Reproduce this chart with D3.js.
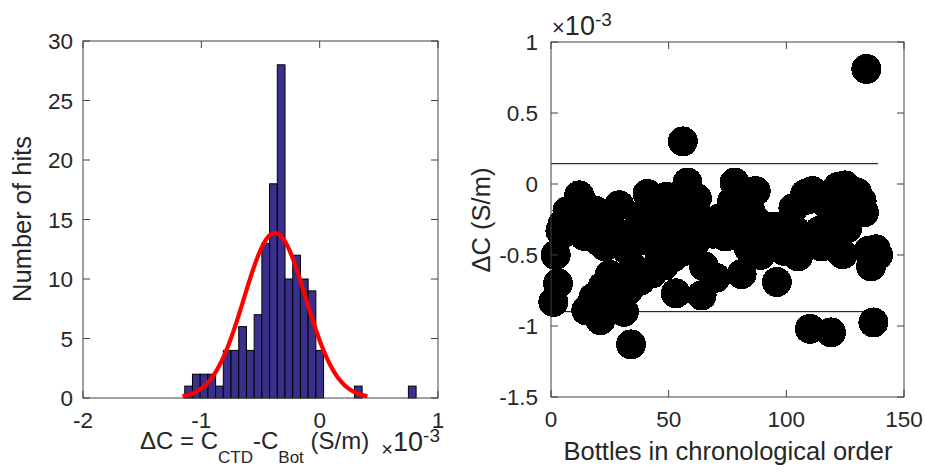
<!DOCTYPE html>
<html><head><meta charset="utf-8">
<script src="https://cdn.jsdelivr.net/npm/d3@7"></script>
<style>
html,body{margin:0;padding:0;background:#fff;}
text{font-family:"Liberation Sans",Arial,Helvetica,sans-serif;fill:#262626;}
</style></head>
<body>
<script>
// ---- data (conductivity differences in units of 1e-3 S/m) ----
const histCounts = [1,2,2,2,1,4,4,6,4,7,13,18,28,10,12,10,9,4,0,0,0,0,1,0,0,0,0,0,0,1];
const histRange = [-1.14, 0.815];           // extent covered by the 30 bins
const fitMu = -0.378, fitSigma = 0.2605;    // normal fit (histfit)
const nBottles = 139;

const deltaC = [
-0.83,-0.50,-0.70,-0.33,-0.28,-0.34,-0.19,-0.24,-0.31,-0.21,
-0.33,-0.08,-0.12,-0.365,-0.89,-0.30,-0.23,-0.80,-0.19,-0.40,
-0.96,-0.72,-0.44,-0.27,-0.64,-0.81,-0.33,-0.66,-0.15,-0.37,
-0.90,-0.46,-0.745,-1.13,-0.59,-0.32,-0.40,-0.68,-0.28,-0.20,
-0.07,-0.35,-0.63,-0.42,-0.31,-0.54,-0.23,-0.575,-0.09,-0.44,
-0.34,-0.515,-0.77,-0.18,-0.38,0.30,-0.47,0.01,-0.20,-0.33,
-0.42,-0.10,-0.29,-0.785,-0.58,-0.26,-0.33,-0.30,-0.35,-0.66,
-0.31,-0.24,-0.34,-0.37,-0.365,-0.31,-0.12,0.01,-0.21,-0.34,
-0.635,-0.37,-0.30,-0.45,-0.20,-0.38,-0.05,-0.27,-0.50,-0.45,
-0.33,-0.40,-0.32,-0.42,-0.30,-0.69,-0.36,-0.31,-0.47,-0.34,
-0.30,-0.40,-0.17,-0.33,-0.51,-0.36,-0.44,-0.07,-0.11,-1.02,
-0.05,-0.40,-0.10,-0.33,-0.44,-0.43,-0.14,-0.38,-1.045,-0.19,
-0.45,-0.02,-0.13,-0.495,-0.01,-0.31,-0.04,-0.21,-0.08,-0.06,
-0.15,-0.12,-0.20,0.81,-0.47,-0.58,-0.975,-0.46,-0.50];

const xTicksL = [-2,-1,0,1], xTickLabelsL = ["-2","-1","0","1"];
const yTicksL = [0,5,10,15,20,25,30], yTickLabelsL = ["0","5","10","15","20","25","30"];
const xTicksR = [0,50,100,150], xTickLabelsR = ["0","50","100","150"];
const yTicksR = [-1.5,-1,-0.5,0,0.5,1], yTickLabelsR = ["-1.5","-1","-0.5","0","0.5","1"];

// ---- drawing ----
const W = 925, H = 472;
const svg = d3.select("body").append("svg").attr("width", W).attr("height", H);
const axisCol = "#404040", tickFont = 22.5, labelFont = 25.5, tickLen = 7;

function box(g, x, y, xt, xl, yt, yl, yLabRight) {
  const [x0, x1] = x.range(), [y0, y1] = y.range();
  g.append("rect").attr("x", x0).attr("y", y1).attr("width", x1 - x0).attr("height", y0 - y1)
    .attr("fill", "none").attr("stroke", axisCol).attr("stroke-width", 1);
  xt.forEach((t, i) => {
    const px = x(t);
    g.append("line").attr("x1", px).attr("x2", px).attr("y1", y0).attr("y2", y0 - tickLen).attr("stroke", axisCol);
    g.append("line").attr("x1", px).attr("x2", px).attr("y1", y1).attr("y2", y1 + tickLen).attr("stroke", axisCol);
    g.append("text").attr("x", px).attr("y", y0 + 30).attr("text-anchor", "middle")
      .attr("font-size", tickFont).text(xl[i]);
  });
  yt.forEach((t, i) => {
    const py = y(t);
    g.append("line").attr("x1", x0).attr("x2", x0 + tickLen).attr("y1", py).attr("y2", py).attr("stroke", axisCol);
    g.append("line").attr("x1", x1).attr("x2", x1 - tickLen).attr("y1", py).attr("y2", py).attr("stroke", axisCol);
    g.append("text").attr("x", yLabRight).attr("y", py + 8).attr("text-anchor", "end")
      .attr("font-size", tickFont).text(yl[i]);
  });
}

// Left: histogram
const xL = d3.scaleLinear().domain([-2, 1]).range([83, 438]);
const yL = d3.scaleLinear().domain([0, 30]).range([398, 41]);
const gL = svg.append("g");
const binW = (histRange[1] - histRange[0]) / histCounts.length;
const bins = histCounts.map((c, i) => ({x0: histRange[0] + i * binW, x1: histRange[0] + (i + 1) * binW, c}));
gL.selectAll("rect.bar").data(bins.filter(b => b.c > 0)).join("rect").attr("class", "bar")
  .attr("x", d => xL(d.x0)).attr("width", d => xL(d.x1) - xL(d.x0))
  .attr("y", d => yL(d.c)).attr("height", d => yL(0) - yL(d.c))
  .attr("fill", "#38308a").attr("stroke", "#000").attr("stroke-width", 1);

const nTot = d3.sum(histCounts);
const curveX = d3.range(0, 201).map(k => fitMu - 3 * fitSigma + k * (6 * fitSigma / 200));
const pdf = v => nTot * binW * Math.exp(-0.5 * ((v - fitMu) / fitSigma) ** 2) / (fitSigma * Math.sqrt(2 * Math.PI));
gL.append("path").datum(curveX)
  .attr("d", d3.line().x(v => xL(v)).y(v => yL(pdf(v))))
  .attr("fill", "none").attr("stroke", "#ff0000").attr("stroke-width", 4.2);

box(gL, xL, yL, xTicksL, xTickLabelsL, yTicksL, yTickLabelsL, 73);

gL.append("text").attr("transform", "translate(31,219) rotate(-90)").attr("text-anchor", "middle")
  .attr("font-size", labelFont).text("Number of hits");

const xlab = gL.append("text").attr("x", 140).attr("y", 449).attr("font-size", 24);
xlab.append("tspan").text("\u0394C = C");
xlab.append("tspan").attr("font-size", 17).attr("dy", 14).text("CTD");
xlab.append("tspan").attr("dy", -14).text("-C");
xlab.append("tspan").attr("font-size", 17).attr("dy", 14).text("Bot");
xlab.append("tspan").attr("dy", -14).text(" (S/m)");

const expL = gL.append("text").attr("x", 440).attr("y", 451).attr("text-anchor", "end");
expL.append("tspan").attr("font-size", 20).attr("dy", 5).text("\u00d7");
expL.append("tspan").attr("font-size", 27).attr("dy", -5).text("10");
expL.append("tspan").attr("font-size", 19).attr("dy", -9).text("-3");

// Right: scatter
const xR = d3.scaleLinear().domain([0, 150]).range([551, 904]);
const yR = d3.scaleLinear().domain([-1.5, 1]).range([397, 42]);
const gR = svg.append("g");
const limits = [fitMu + 2 * fitSigma, fitMu - 2 * fitSigma];
gR.selectAll("line.lim").data(limits).join("line").attr("class", "lim")
  .attr("x1", xR(0)).attr("x2", xR(nBottles)).attr("y1", d => yR(d)).attr("y2", d => yR(d))
  .attr("stroke", "#000").attr("stroke-width", 1);
gR.selectAll("circle").data(deltaC).join("circle")
  .attr("cx", (d, i) => xR(i + 1)).attr("cy", d => yR(d)).attr("r", 15)
  .attr("fill", "#000").attr("shape-rendering", "crispEdges");

box(gR, xR, yR, xTicksR, xTickLabelsR, yTicksR, yTickLabelsR, 538);

gR.append("text").attr("x", 728).attr("y", 460).attr("text-anchor", "middle")
  .attr("font-size", labelFont).text("Bottles in chronological order");
gR.append("text").attr("transform", "translate(490,220) rotate(-90)").attr("text-anchor", "middle")
  .attr("font-size", labelFont).text("\u0394C (S/m)");

const expR = gR.append("text").attr("x", 552).attr("y", 35).attr("text-anchor", "start");
expR.append("tspan").attr("font-size", 22).text("\u00d7");
expR.append("tspan").attr("font-size", 27).text("10");
expR.append("tspan").attr("font-size", 19).attr("dy", -9).text("-3");
</script>
</body></html>
